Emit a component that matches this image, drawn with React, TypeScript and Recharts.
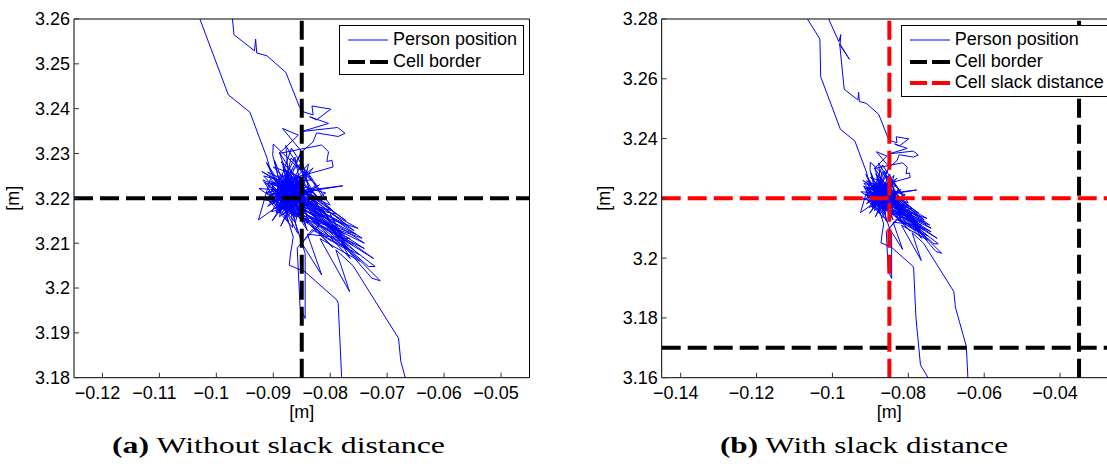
import React from 'react';
import { ComposedChart, Line, XAxis, YAxis, ReferenceLine, Legend, Label } from 'recharts';

type P = [number, number];

// ---- trajectory data (x [m], y [m]) ----
const entryOuter: P[] = [
  [-0.1066, 3.2800], [-0.1033, 3.2733], [-0.1031, 3.2607], [-0.0979, 3.2431],
  [-0.0941, 3.2392], [-0.0911, 3.2290],
];
const clusterA: P[] = [
  [-0.0905, 3.2262], [-0.0862, 3.2170], [-0.0898, 3.2285], [-0.0874, 3.2148], [-0.0918, 3.2241],
  [-0.0836, 3.2196], [-0.0889, 3.2302], [-0.0851, 3.2158], [-0.0925, 3.2222], [-0.0829, 3.2213],
  [-0.0878, 3.2318], [-0.0866, 3.2135], [-0.0911, 3.2200], [-0.0841, 3.2259], [-0.0893, 3.2176],
  [-0.0822, 3.2188], [-0.0883, 3.2271], [-0.0857, 3.2122], [-0.0904, 3.2233], [-0.0833, 3.2241],
  [-0.0869, 3.2290], [-0.0889, 3.2159], [-0.0846, 3.2205], [-0.0920, 3.2260], [-0.0815, 3.2172],
  [-0.0872, 3.2254], [-0.0898, 3.2190], [-0.0838, 3.2277], [-0.0861, 3.2146], [-0.0909, 3.2216],
  [-0.0826, 3.2160], [-0.0880, 3.2235], [-0.0852, 3.2300], [-0.0895, 3.2168], [-0.0819, 3.2230],
  [-0.0877, 3.2186], [-0.0912, 3.2280], [-0.0843, 3.2140], [-0.0864, 3.2226], [-0.0902, 3.2150],
  [-0.0830, 3.2268], [-0.0885, 3.2208], [-0.0858, 3.2182], [-0.0915, 3.2235], [-0.0812, 3.2200],
  [-0.0868, 3.2312], [-0.0892, 3.2225], [-0.0848, 3.2164], [-0.0907, 3.2192], [-0.0835, 3.2222],
  [-0.0879, 3.2155], [-0.0856, 3.2250], [-0.0900, 3.2270], [-0.0827, 3.2180], [-0.0871, 3.2210],
];
const tailA: P[] = [
  [-0.0800, 3.2150], [-0.0855, 3.2195], [-0.0775, 3.2120], [-0.0840, 3.2170], [-0.0751, 3.2133],
  [-0.0860, 3.2210], [-0.0744, 3.2111], [-0.0830, 3.2150], [-0.0760, 3.2095], [-0.0850, 3.2180],
  [-0.0724, 3.2066], [-0.0805, 3.2130], [-0.0733, 3.2048], [-0.0721, 3.2048], [-0.0790, 3.2115],
  [-0.0712, 3.2016], [-0.0727, 3.2022], [-0.0780, 3.2100], [-0.0765, 3.2066], [-0.0820, 3.2140],
];
const dropSpike: P[] = [
  [-0.0858, 3.2090], [-0.0853, 3.1958], [-0.0844, 3.1932], [-0.0844, 3.2077], [-0.0870, 3.2180],
];
const clusterB: P[] = [
  [-0.0897, 3.2243], [-0.0840, 3.2128], [-0.0882, 3.2265], [-0.0806, 3.2160], [-0.0913, 3.2212],
  [-0.0850, 3.2235], [-0.0795, 3.2172], [-0.0873, 3.2200], [-0.0926, 3.2152], [-0.0905, 3.2244],
  [-0.0837, 3.2150], [-0.0886, 3.2282], [-0.0823, 3.2205], [-0.0865, 3.2160], [-0.0896, 3.2214],
  [-0.0818, 3.2142], [-0.0876, 3.2240], [-0.0845, 3.2190], [-0.0770, 3.2140], [-0.0860, 3.2226],
  [-0.0785, 3.2125], [-0.0890, 3.2198], [-0.0812, 3.2120], [-0.0869, 3.2170], [-0.0755, 3.2120],
  [-0.0833, 3.2172], [-0.0761, 3.2080], [-0.0846, 3.2155], [-0.0740, 3.2088], [-0.0810, 3.2145],
  [-0.0750, 3.2075], [-0.0832, 3.2130], [-0.0850, 3.2100], [-0.0815, 3.2029], [-0.0840, 3.2120],
  [-0.0765, 3.2110], [-0.0880, 3.2176],
];
const exitLeft: P[] = [
  [-0.0865, 3.2114], [-0.0870, 3.2074], [-0.0872, 3.2051], [-0.0844, 3.2036], [-0.0788, 3.1973],
  [-0.0786, 3.1966], [-0.0780, 3.1802], [-0.0768, 3.1643], [-0.0748, 3.1600], [-0.0740, 3.1550],
];
const entryInner: P[] = [
  [-0.1010, 3.2800], [-0.0983, 3.2724], [-0.0978, 3.2748], [-0.0980, 3.2712], [-0.0955, 3.2665],
  [-0.0981, 3.2718], [-0.0969, 3.2565], [-0.0933, 3.2529], [-0.0931, 3.2555], [-0.0929, 3.2524],
  [-0.0911, 3.2518], [-0.0878, 3.2481], [-0.0854, 3.2404],
];
const loopsAbove: P[] = [
  [-0.0847, 3.2393], [-0.0830, 3.2386], [-0.0832, 3.2406], [-0.0799, 3.2399], [-0.0824, 3.2375],
  [-0.0836, 3.2382], [-0.0803, 3.2367], [-0.0850, 3.2349], [-0.0787, 3.2358], [-0.0774, 3.2345],
  [-0.0786, 3.2338], [-0.0824, 3.2346], [-0.0830, 3.2326], [-0.0850, 3.2304], [-0.0884, 3.2356],
  [-0.0856, 3.2341], [-0.0890, 3.2300], [-0.0815, 3.2319], [-0.0803, 3.2304], [-0.0806, 3.2282],
  [-0.0797, 3.2285], [-0.0795, 3.2270],
];
const clusterCore: P[] = [
  [-0.0880, 3.2240], [-0.0865, 3.2205], [-0.0893, 3.2222], [-0.0872, 3.2188], [-0.0900, 3.2210],
  [-0.0858, 3.2230], [-0.0884, 3.2178], [-0.0866, 3.2248], [-0.0897, 3.2195], [-0.0850, 3.2212],
  [-0.0876, 3.2262], [-0.0889, 3.2172], [-0.0861, 3.2196], [-0.0905, 3.2238], [-0.0869, 3.2219],
  [-0.0847, 3.2184], [-0.0882, 3.2205], [-0.0910, 3.2182], [-0.0873, 3.2236], [-0.0855, 3.2168],
  [-0.0891, 3.2250], [-0.0864, 3.2182], [-0.0838, 3.2215], [-0.0879, 3.2195], [-0.0902, 3.2226],
  [-0.0870, 3.2171], [-0.0846, 3.2240], [-0.0886, 3.2216], [-0.0859, 3.2158], [-0.0895, 3.2184],
  [-0.0875, 3.2252], [-0.0853, 3.2201], [-0.0883, 3.2163], [-0.0908, 3.2205], [-0.0867, 3.2228],
  [-0.0842, 3.2176], [-0.0878, 3.2210], [-0.0897, 3.2243], [-0.0863, 3.2190], [-0.0887, 3.2229],
  [-0.0852, 3.2248], [-0.0874, 3.2175], [-0.0899, 3.2199], [-0.0860, 3.2214], [-0.0881, 3.2185],
  [-0.0848, 3.2198], [-0.0871, 3.2244], [-0.0892, 3.2168], [-0.0857, 3.2225], [-0.0884, 3.2252],
  [-0.0866, 3.2166], [-0.0904, 3.2219], [-0.0877, 3.2198], [-0.0844, 3.2225], [-0.0868, 3.2186],
  [-0.0890, 3.2208], [-0.0856, 3.2180], [-0.0880, 3.2228], [-0.0896, 3.2176], [-0.0862, 3.2240],
  [-0.0873, 3.2200], [-0.0840, 3.2190], [-0.0885, 3.2196], [-0.0869, 3.2260], [-0.0851, 3.2222],
  [-0.0894, 3.2233], [-0.0876, 3.2182], [-0.0858, 3.2208], [-0.0888, 3.2187], [-0.0865, 3.2235],
  [-0.0845, 3.2170], [-0.0879, 3.2216], [-0.0901, 3.2190], [-0.0870, 3.2203], [-0.0849, 3.2232],
  [-0.0883, 3.2170], [-0.0862, 3.2198], [-0.0893, 3.2215], [-0.0855, 3.2190], [-0.0878, 3.2238],
  [-0.0830, 3.2175], [-0.0800, 3.2140], [-0.0822, 3.2160], [-0.0790, 3.2130], [-0.0815, 3.2180],
  [-0.0785, 3.2110], [-0.0810, 3.2150], [-0.0775, 3.2100], [-0.0820, 3.2125], [-0.0795, 3.2090],
  [-0.0835, 3.2140], [-0.0805, 3.2110], [-0.0770, 3.2085], [-0.0800, 3.2165], [-0.0780, 3.2120],
  [-0.0828, 3.2195], [-0.0862, 3.2215], [-0.0887, 3.2240], [-0.0871, 3.2192], [-0.0895, 3.2205],
];
const clusterC: P[] = [
  [-0.0888, 3.2252], [-0.0829, 3.2185], [-0.0909, 3.2226], [-0.0853, 3.2275], [-0.0817, 3.2158],
  [-0.0894, 3.2203], [-0.0862, 3.2292], [-0.0839, 3.2145], [-0.0917, 3.2250], [-0.0808, 3.2212],
  [-0.0874, 3.2163], [-0.0901, 3.2296], [-0.0900, 3.2321], [-0.0825, 3.2230], [-0.0866, 3.2185],
  [-0.0921, 3.2198], [-0.0778, 3.2228], [-0.0855, 3.2216], [-0.0887, 3.2138], [-0.0842, 3.2262],
  [-0.0800, 3.2185], [-0.0876, 3.2228], [-0.0903, 3.2170], [-0.0834, 3.2200], [-0.0862, 3.2248],
  [-0.0790, 3.2165], [-0.0884, 3.2190], [-0.0849, 3.2281], [-0.0820, 3.2135], [-0.0910, 3.2259],
  [-0.0845, 3.2218], [-0.0772, 3.2150], [-0.0868, 3.2235], [-0.0758, 3.2128], [-0.0852, 3.2195],
  [-0.0740, 3.2100], [-0.0836, 3.2160], [-0.0748, 3.2060], [-0.0818, 3.2110], [-0.0766, 3.1992],
  [-0.0790, 3.2085], [-0.0760, 3.2050],
];
const exitRight: P[] = [
  [-0.0680, 3.1888], [-0.0676, 3.1836], [-0.0647, 3.1704], [-0.0643, 3.1600], [-0.0642, 3.1550],
];

// ---- axes ----
const xDomainA: [number, number] = [-0.125, -0.045];
const yDomainA: [number, number] = [3.18, 3.26];
const xTicksA = [-0.12, -0.11, -0.1, -0.09, -0.08, -0.07, -0.06, -0.05];
const yTicksA = [3.18, 3.19, 3.2, 3.21, 3.22, 3.23, 3.24, 3.25, 3.26];

const xDomainB: [number, number] = [-0.145, -0.025];
const yDomainB: [number, number] = [3.16, 3.28];
const xTicksB = [-0.14, -0.12, -0.1, -0.08, -0.06, -0.04];
const yTicksB = [3.16, 3.18, 3.2, 3.22, 3.24, 3.26, 3.28];

// ---- cell borders ----
const borderA_x = [-0.085];
const borderA_y = [3.22];
const borderB_x = [-0.035];
const borderB_y = [3.17];
const slackB_x = [-0.085];
const slackB_y = [3.22];

const captionTags = ['(a)', '(b)'];
const captionTexts = ['Without slack distance', 'With slack distance'];
const legendLabels = ['Person position', 'Cell border', 'Cell slack distance'];

const toPts = (a: P[]) => a.map(([x, y]) => ({ x, y }));
const track1 = toPts([...entryOuter, ...clusterA, ...tailA, ...dropSpike, ...clusterB, ...exitLeft]);
const track2 = toPts([...entryInner, ...loopsAbove, ...clusterCore, ...clusterC, ...exitRight]);

const FONT = '"Liberation Sans", Arial, Helvetica, sans-serif';
const SERIF = '"Liberation Serif", "Times New Roman", serif';
const BLUE = '#0000ff';
const RED = '#ff0000';
const DASH = '19 7';

const fmtX = (v: number) => (v < 0 ? '\u2212' : '') + String(Math.abs(v));
const fmtY = (v: number) => String(v);

type LegendItem = { label: string; color: string; width: number; dash?: string };

const legendA: LegendItem[] = [
  { label: legendLabels[0], color: BLUE, width: 1 },
  { label: legendLabels[1], color: '#000', width: 4, dash: '17 5 18' },
];
const legendB: LegendItem[] = [
  { label: legendLabels[0], color: BLUE, width: 1 },
  { label: legendLabels[1], color: '#000', width: 4, dash: '17 5 18' },
  { label: legendLabels[2], color: RED, width: 4, dash: '17 5 18' },
];

function LegendBox({ items }: { items: LegendItem[] }) {
  return (
    <div
      style={{
        border: '1px solid #000',
        background: '#fff',
        padding: '3px 6px 2px 8px',
        fontFamily: FONT,
        fontSize: 18,
        color: '#000',
        whiteSpace: 'nowrap',
        boxSizing: 'content-box',
      }}
    >
      {items.map((it) => (
        <div key={it.label} style={{ height: 21.7, display: 'flex', alignItems: 'center' }}>
          <svg width={40} height={8} style={{ marginRight: 5, flex: 'none' }}>
            <line x1={0} y1={4} x2={40} y2={4} stroke={it.color} strokeWidth={it.width} strokeDasharray={it.dash} />
          </svg>
          <span style={{ lineHeight: '21.7px' }}>{it.label}</span>
        </div>
      ))}
    </div>
  );
}

type RefSpec = { x?: number; y?: number; color: string };

type PanelProps = {
  left: number;
  width: number;
  yAxisWidth: number;
  marginRight: number;
  yLabelGap: number;
  xDomain: [number, number];
  yDomain: [number, number];
  xTicks: number[];
  yTicks: number[];
  refs: RefSpec[];
  legend: LegendItem[];
  legendLeft: number;
};

const tickStyle = { fill: '#000', fontSize: 18, fontFamily: FONT };

function Panel(p: PanelProps) {
  return (
    <div style={{ position: 'absolute', left: p.left, top: 0 }}>
      <ComposedChart
        width={p.width}
        height={466}
        margin={{ top: 18, right: p.marginRight, bottom: 48.3, left: 0 }}
      >
        <XAxis
          dataKey="x"
          type="number"
          domain={p.xDomain}
          ticks={p.xTicks}
          allowDataOverflow
          interval={0}
          height={40}
          tickSize={-5}
          tickMargin={14}
          tickFormatter={fmtX}
          tick={{ ...tickStyle, dx: -5 }}
          axisLine={{ stroke: '#000', strokeWidth: 1 }}
          tickLine={{ stroke: '#333' }}
        >
          <Label
            content={(lp: any) => {
              const vb = lp.viewBox || {};
              return (
                <text
                  x={vb.x + vb.width / 2}
                  y={vb.y + 40}
                  textAnchor="middle"
                  fontFamily={FONT}
                  fontSize={18}
                  fill="#000"
                >
                  [m]
                </text>
              );
            }}
          />
        </XAxis>
        <XAxis
          xAxisId="top"
          orientation="top"
          dataKey="x"
          type="number"
          domain={p.xDomain}
          ticks={p.xTicks}
          allowDataOverflow
          interval={0}
          height={1}
          tickSize={-5}
          tick={false}
          axisLine={{ stroke: '#000', strokeWidth: 1 }}
          tickLine={{ stroke: '#333' }}
        />
        <YAxis
          dataKey="y"
          type="number"
          domain={p.yDomain}
          ticks={p.yTicks}
          allowDataOverflow
          interval={0}
          width={p.yAxisWidth}
          tickSize={-5}
          tickMargin={9}
          tickFormatter={fmtY}
          tick={tickStyle}
          axisLine={{ stroke: '#000', strokeWidth: 1 }}
          tickLine={{ stroke: '#333' }}
        >
          <Label
            content={(lp: any) => {
              const vb = lp.viewBox || {};
              const cx = vb.x + vb.width - p.yLabelGap;
              const cy = vb.y + vb.height / 2;
              return (
                <text
                  x={cx}
                  y={cy}
                  transform={`rotate(-90 ${cx} ${cy})`}
                  textAnchor="middle"
                  dominantBaseline="central"
                  fontFamily={FONT}
                  fontSize={18}
                  fill="#000"
                >
                  [m]
                </text>
              );
            }}
          />
        </YAxis>
        <YAxis
          yAxisId="right"
          orientation="right"
          type="number"
          domain={p.yDomain}
          ticks={p.yTicks}
          allowDataOverflow
          interval={0}
          width={1}
          tickSize={-5}
          tick={false}
          axisLine={{ stroke: '#000', strokeWidth: 1 }}
          tickLine={{ stroke: '#333' }}
        />
        <Line
          data={track1}
          dataKey="y"
          type="linear"
          stroke={BLUE}
          strokeWidth={1}
          dot={false}
          activeDot={false}
          legendType="none"
          isAnimationActive={false}
        />
        <Line
          data={track2}
          dataKey="y"
          type="linear"
          stroke={BLUE}
          strokeWidth={1}
          dot={false}
          activeDot={false}
          legendType="none"
          isAnimationActive={false}
        />
        {p.refs.map((r, i) =>
          r.x !== undefined ? (
            <ReferenceLine key={i} x={r.x} stroke={r.color} strokeWidth={4} strokeDasharray={DASH} />
          ) : (
            <ReferenceLine key={i} y={r.y} stroke={r.color} strokeWidth={4} strokeDasharray={DASH} />
          )
        )}
        <Legend
          layout="vertical"
          align="center"
          verticalAlign="middle"
          wrapperStyle={{ left: p.legendLeft, top: 25, width: 'auto' }}
          content={() => <LegendBox items={p.legend} />}
        />
      </ComposedChart>
    </div>
  );
}

export default function App() {
  const refsA: RefSpec[] = [
    ...borderA_y.map((y) => ({ y, color: '#000' })),
    ...borderA_x.map((x) => ({ x, color: '#000' })),
  ];
  const refsB: RefSpec[] = [
    ...borderB_y.map((y) => ({ y, color: '#000' })),
    ...borderB_x.map((x) => ({ x, color: '#000' })),
    ...slackB_y.map((y) => ({ y, color: RED })),
    ...slackB_x.map((x) => ({ x, color: RED })),
  ];
  return (
    <div
      style={{
        position: 'fixed',
        left: 0,
        top: 0,
        width: 1107,
        height: 466,
        overflow: 'hidden',
        background: '#fff',
      }}
    >
      <Panel
        left={0}
        width={560}
        yAxisWidth={74}
        marginRight={29.5}
        yLabelGap={61}
        xDomain={xDomainA}
        yDomain={yDomainA}
        xTicks={xTicksA}
        yTicks={yTicksA}
        refs={refsA}
        legend={legendA}
        legendLeft={339}
      />
      <Panel
        left={575}
        width={585}
        yAxisWidth={86.7}
        marginRight={42}
        yLabelGap={58}
        xDomain={xDomainB}
        yDomain={yDomainB}
        xTicks={xTicksB}
        yTicks={yTicksB}
        refs={refsB}
        legend={legendB}
        legendLeft={325.7}
      />
      <svg width={1107} height={466} style={{ position: 'absolute', left: 0, top: 0, pointerEvents: 'none' }}>
        <text x={112} y={453} textLength={333} lengthAdjust="spacingAndGlyphs" fontFamily={SERIF} fontSize={24} fill="#000">
          <tspan fontWeight="bold">{captionTags[0]}</tspan>
          {' ' + captionTexts[0]}
        </text>
        <text x={720} y={453} textLength={288} lengthAdjust="spacingAndGlyphs" fontFamily={SERIF} fontSize={24} fill="#000">
          <tspan fontWeight="bold">{captionTags[1]}</tspan>
          {' ' + captionTexts[1]}
        </text>
      </svg>
    </div>
  );
}
